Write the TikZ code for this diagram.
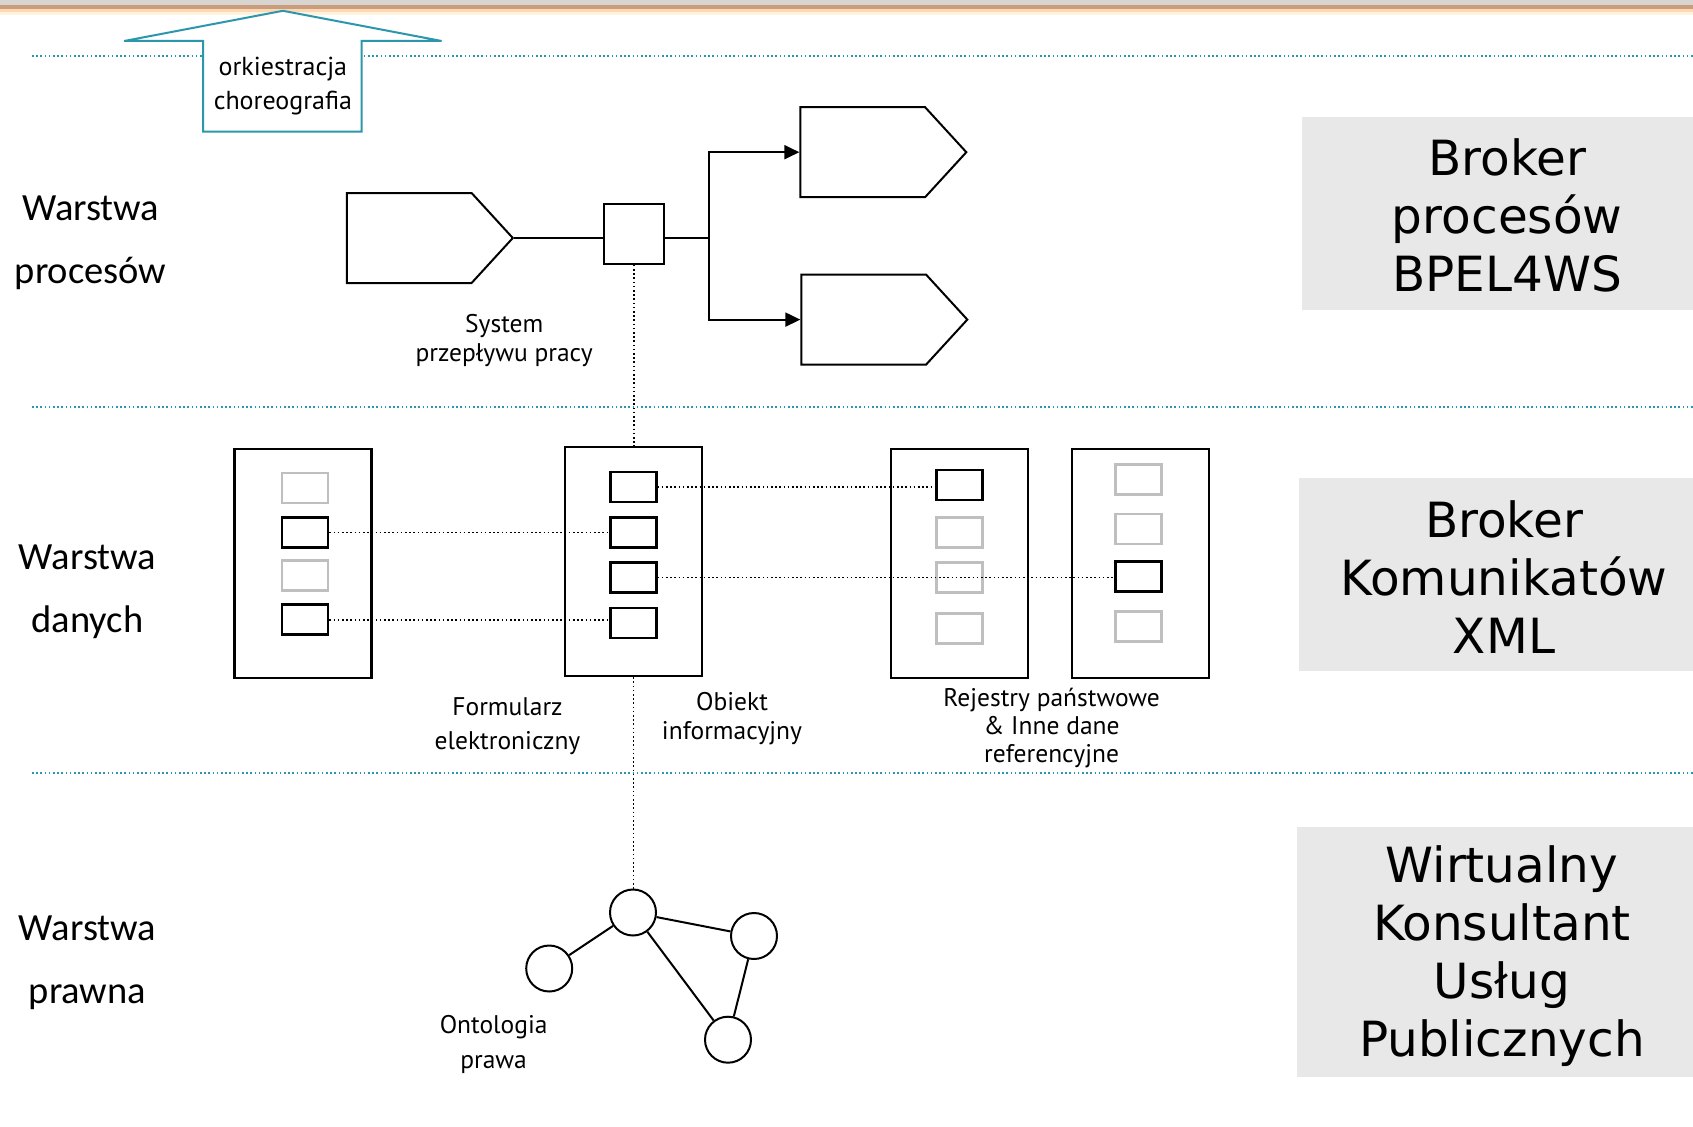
\documentclass[tikz,border=0pt]{standalone}
\usepackage{fontspec}
\usepackage{tikz}
\usetikzlibrary{arrows.meta,shapes.symbols,positioning}
\newfontfamily\brokerfont{DejaVu Sans}
\newfontfamily\layerfont{Carlito}
\newfontfamily\labfont{PT Sans}
\definecolor{tealline}{RGB}{43,150,172}
\definecolor{brokergray}{RGB}{232,232,232}
\definecolor{bandgray}{RGB}{216,212,208}
\definecolor{bandbrown}{RGB}{200,156,124}
\definecolor{bandpeach}{RGB}{252,216,180}
\definecolor{bandpale}{RGB}{255,243,224}
\tikzset{
  layerline/.style = {tealline, line width=1.6pt, dash pattern=on 1.6pt off 2.6pt},
  link/.style      = {black, line width=1.6pt, dash pattern=on 1.6pt off 2.6pt},
  proc/.style      = {signal, signal to=east, signal pointer angle=95, draw,
                      line width=2pt, inner sep=0pt, minimum width=166pt, minimum height=90pt},
  flow/.style      = {line width=2pt, -{Triangle[length=15pt,width=14pt]}},
  hub/.style       = {draw, line width=2pt, minimum width=60pt, minimum height=60pt, inner sep=0pt},
  store/.style     = {draw, line width=2.4pt, fill=white, minimum width=137pt, minimum height=229pt, inner sep=0pt},
  rec/.style       = {draw, line width=2.6pt, minimum width=46pt, minimum height=30pt, inner sep=0pt},
  recoff/.style    = {rec, draw=black!25},
  ont/.style       = {circle, draw, line width=2pt, minimum size=46pt, inner sep=0pt},
  layerlab/.style  = {align=center, font=\fontsize{38.5}{63}\layerfont},
  lab/.style       = {align=center, font=\fontsize{25.5}{29}\labfont},
  brokerlab/.style = {align=center, font=\fontsize{48.5}{58}\brokerfont},
}
\begin{document}
\begin{tikzpicture}[x=1pt,y=-1pt]
\useasboundingbox (0,0) rectangle (1693,1126);
% band at the top
\fill[bandgray]  (0,0)  rectangle (1693,5);
\fill[bandbrown] (0,5)  rectangle (1693,9);
\fill[bandpeach] (0,9)  rectangle (1693,12);
\fill[bandpale]  (0,12) rectangle (1693,15);

% layer separators
\draw[layerline] (32,56)  -- (1693,56);
\draw[layerline] (32,407) -- (1693,407);
\draw[layerline] (32,773) -- (1693,773);

% orchestration arrow
\draw[tealline, line width=2pt, fill=white] (203,131.7) -- (203,41) -- (124.2,41) -- (282.9,10.8)
  -- (441.6,41) -- (361.7,41) -- (361.7,131.7) -- cycle;
\node[lab, font=\fontsize{26}{34.5}\labfont] (orch) at (282.9,86) {orkiestracja\\choreografia};

% right hand boxes
\fill[brokergray] (1302,116.6) rectangle (1693,309.9);
\fill[brokergray] (1298.9,478.3) rectangle (1693,670.5);
\fill[brokergray] (1296.7,827) rectangle (1693,1076.5);
\node[brokerlab] (bp) at (1507.2,215.5) {Broker\\procesów\\BPEL4WS};
\node[brokerlab] (bk) at (1504,577) {Broker\\Komunikatów\\XML};
\node[brokerlab] (bw) at (1501.9,956) {Wirtualny\\Konsultant\\Usług\\Publicznych};

% layer names
\node[layerlab] (lp) at (90.7,243) {Warstwa\\procesów};
\node[layerlab] (ld) at (87.5,592)   {Warstwa\\danych};
\node[layerlab] (ll) at (87.5,963)   {Warstwa\\prawna};

% process layer
\node[proc] (p1) at (409.2,238) {};
\node[proc] (p2) at (862.7,152.2) {};
\node[proc] (p3) at (863.7,319.6) {};
\node[hub] (wf) at (633.8,233.8) {};
\coordinate (fork) at (709.4,238);
\draw[line width=2pt] (p1.east) -- (p1.east -| wf.west);
\draw[line width=2pt] (p1.east -| wf.east) -- (fork);
\draw[flow] (fork) |- (p2.west);
\draw[flow] (fork) |- (p3.west);
\node[lab] (wflab) at (504.2,340.5) {System\\przepływu pracy};

% data layer
\node[store] (fa) at (302.9,563.6) {};
\node[store] (ob) at (633.3,561.5) {};
\node[store] (rc) at (959.4,563.6) {};
\node[store] (rd) at (1140.7,563.6) {};

\node[recoff] (a1) at (305,488)   {};
\node[rec]    (a2) at (305,532.3) {};
\node[recoff] (a3) at (305,575.5) {};
\node[rec]    (a4) at (305,619.7) {};

\node[rec] (b1) at (633.2,487)   {};
\node[rec] (b2) at (633.2,532.3) {};
\node[rec] (b3) at (633.2,577.6) {};
\node[rec] (b4) at (633.2,623)   {};

\node[rec]    (c1) at (959.2,484.8) {};
\node[recoff] (c2) at (959.2,532.3) {};
\node[recoff] (c3) at (959.2,577.6) {};
\node[recoff] (c4) at (959.2,628.4) {};

\node[recoff] (d1) at (1138.5,479.4) {};
\node[recoff] (d2) at (1138.5,529)   {};
\node[rec]    (d3) at (1138.5,576.6) {};
\node[recoff] (d4) at (1138.5,626.2) {};

\draw[link] (a2.east) -- (a2.east -| b2.west);
\draw[link] (a4.east) -- (a4.east -| b4.west);
\draw[link] (b1.east) -- (b1.east -| c1.west);
\draw[link] (b3.east) -- (b3.east -| d3.west);

\node[lab, font=\fontsize{25.5}{33.5}\labfont] (falab) at (507.5,726) {Formularz\\elektroniczny};
\node[lab] (oblab) at (732,719) {Obiekt\\informacyjny};
\node[lab, font=\fontsize{25.5}{28}\labfont] (rlab) at (1051.6,728.5) {Rejestry państwowe\\\& Inne dane\\referencyjne};

% legal layer
\node[ont] (o1) at (633,912.5)   {};
\node[ont] (o2) at (754,936)     {};
\node[ont] (o3) at (549.2,968.5) {};
\node[ont] (o4) at (728,1039.7)  {};
\draw[line width=2pt] (o1) -- (o3);
\draw[line width=2pt] (o1) -- (o2);
\draw[line width=2pt] (o1) -- (o4);
\draw[line width=2pt] (o2) -- (o4);
\node[lab, font=\fontsize{25.5}{35}\labfont] (ontlab) at (493.6,1044.5) {Ontologia\\prawa};

% links between the layers
\draw[link] (wf.south) -- (wf.south |- ob.north);
\draw[link] (ob.south) -- (ob.south |- o1.north);
\end{tikzpicture}
\end{document}
